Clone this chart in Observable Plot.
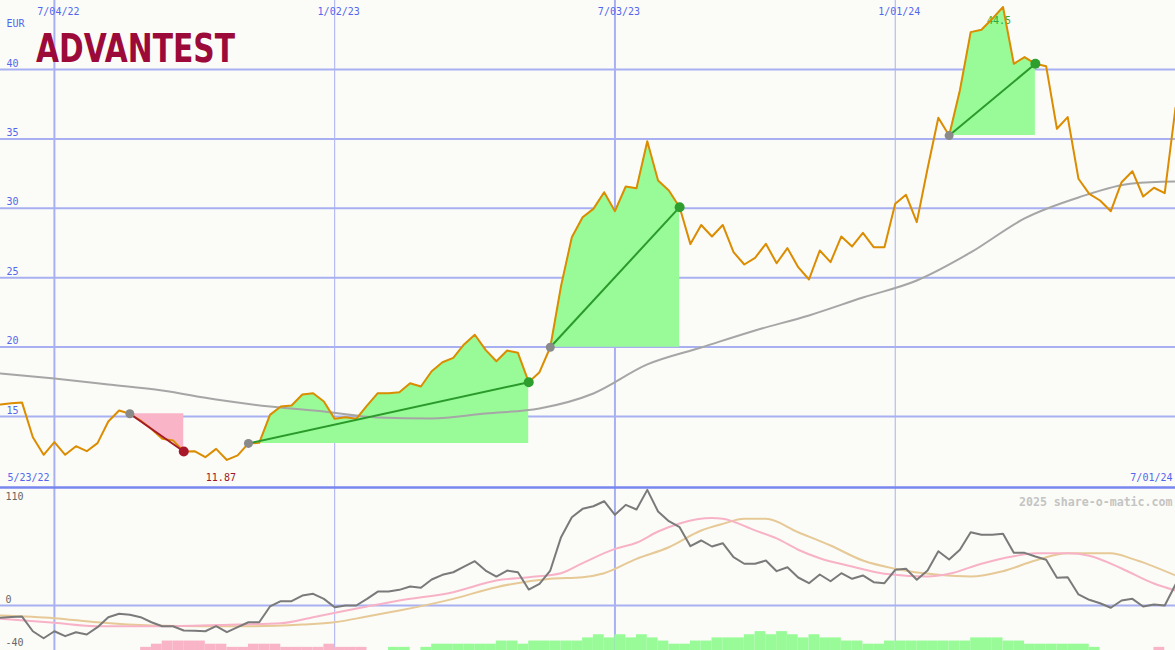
<!DOCTYPE html>
<html><head><meta charset="utf-8">
<script src="https://cdn.jsdelivr.net/npm/d3@7"></script>
<script src="https://cdn.jsdelivr.net/npm/@observablehq/plot@0.6"></script>
<style>
html,body{margin:0;padding:0;background:#fbfcf7;}
#chart{position:relative;width:1175px;height:650px;overflow:hidden;background:#fbfcf7;}
#chart svg{position:absolute;left:0;background:transparent;}
</style></head><body><div id="chart"></div>
<script>
// ---------- data ----------
const startWeek = "2022-05-30";
const endWeek = "2024-07-01";
const price = [15.86,15.95,16.0,13.5,12.24,13.15,12.24,12.86,12.5,13.08,
  14.64,15.43,15.2,14.7,14.1,13.4,13.27,12.48,12.5,12.07,
  12.67,11.87,12.2,13.06,13.1,15.12,15.72,15.79,16.59,16.68,
  16.08,14.83,14.95,14.83,15.79,16.68,16.68,16.75,17.4,17.16,
  18.26,18.91,19.22,20.19,20.89,19.8,18.98,19.75,19.59,17.47,
  18.19,19.99,24.4,27.92,29.36,29.96,31.16,29.79,31.57,31.45,
  34.83,32.0,31.28,30.08,27.42,28.8,27.97,28.8,26.84,25.95,
  26.43,27.44,26.04,27.13,25.76,24.87,26.96,26.12,27.97,27.25,
  28.23,27.2,27.2,30.32,30.97,29.0,32.87,36.52,35.24,38.5,
  42.69,42.86,43.65,44.5,40.41,40.89,40.41,40.24,35.73,36.57,
  32.13,31.04,30.56,29.79,31.88,32.67,30.85,31.48,31.09,37.24];
const maWeeks = [0,5,10,15,20,25,30,35,40,45,50,55,60,65,70,75,80,85,90,95,100,105,109];
const maValues = [18.1,17.74,17.31,16.87,16.22,15.72,15.36,14.93,14.86,15.22,15.58,16.66,18.75,19.97,21.2,22.28,23.57,24.8,26.82,29.27,30.78,31.79,31.93];
const oscillator = [-11.5,-10.8,-10.3,-24.0,-30.5,-24.0,-28.6,-24.9,-27.0,-20.2,
  -10.9,-7.7,-8.7,-10.9,-15.6,-19.3,-19.3,-23.3,-23.6,-24.0,
  -19.3,-24.9,-20.2,-15.6,-15.6,-0.9,4.0,4.0,9.3,10.9,
  6.2,-1.6,0,0,6.2,13.0,13.0,14.6,17.7,16.5,
  24.2,28.6,31.0,36.3,41.3,32.6,27.0,32.6,31.0,14.9,
  20.2,32.6,63.7,82.3,90.1,92.5,97.2,84.5,93.8,89.5,
  107.8,87.6,78.6,73.0,55.3,60.6,55.0,58.1,45.0,38.9,
  38.9,41.9,32.0,35.7,26.1,20.8,28.9,22.6,30.1,24.9,
  28.0,21.7,20.8,33.3,34.2,24.0,32.6,50.6,42.9,51.9,
  68.3,65.9,65.9,66.8,49.1,49.1,45.7,42.6,25.8,26.4,
  10.3,5.3,2.1,-2.1,4.7,6.2,-0.9,0.9,0,19.6];
const pinkWeeks = [0,5,9,15,22,26,29,34,37,42,46,49,52,54,57,59,61,63,66,67,70,72,74,76,79,82,86,88,91,94,96,99,101,104,107,109];
const pinkValues = [-12.4,-16.1,-19.3,-19.3,-17.7,-16.5,-10.9,-0.9,4.7,12.4,23.3,26.4,30.1,39.5,52.8,58.5,69,76.5,81.5,80.8,70,62.5,52,44,36.3,29.5,27,29.5,39,46,48.7,48.7,46.4,34.5,20.5,14];
const tanWeeks = [0,5,9,14,19,23,28,31,34,37,42,46,51,54,56,59,62,65,67,69,71,74,77,80,83,87,90,93,96,99,103,105,109];
const tanValues = [-9.3,-11.8,-15.6,-18.6,-19.3,-19.3,-17.7,-15.6,-10.3,-4.7,6.2,17.1,24.9,26.4,30.1,43.5,54.3,69.9,76.1,80.8,80.8,68.3,55.9,41.9,34.2,28.6,27.0,32.0,41.9,48.7,48.7,43.5,28.0];
const histogram = [0,0,0,0,0,0,0,0,0,0, 0,0,0,-1,-2,-3,-3,-3,-3,-2,
  -2,-1,-1,-2,-2,-2,-1,-1,-1,-1, -2,-1,-1,-1,0,0,1,1,0,1,
  2,2,2,2,2,2,3,3,2,3, 3,3,3,3,4,5,4,5,4,5,
  4,3,2,2,3,3,4,4,4,5, 6,5,6,5,4,5,4,4,3,3,
  2,2,3,3,3,3,3,3,3,3, 4,4,4,3,3,2,2,2,2,2,
  2,1,0,0,0,0,0,-1,0,0];
const gridDates = ["2022-07-04","2023-01-02","2023-07-03","2024-01-01"];
const gridLabels = ["7/04/22","1/02/23","7/03/23","1/01/24"];
const priceTicks = [15,20,25,30,35,40];
const oscTopTick = [110];
const oscLowTicks = [0,-40];
const trendStarts = [12,23,51,88];
const trendEnds = [17,49,63,96];
const lowLabel = "11.87", lowWeek = 21;
const highLabel = "44.5", highWeek = 93;
const rangeLabels = ["5/23/22","7/01/24"];
const unitLabel = "EUR";
const credit = "2025 share-o-matic.com";
const company = "ADVANTEST";

// ---------- build ----------
const W = 1175;
const FONT = "DejaVu Sans Mono";
const weeks = d3.utcMonday.range(new Date(startWeek), d3.utcDay.offset(new Date(endWeek), 1));
const xDomain = [weeks[0], weeks[weeks.length - 1]];
const priceData = price.map((v, i) => ({date: weeks[i], v}));
const maData = maWeeks.map((k, i) => ({date: weeks[k], v: maValues[i]}));
const oscData = oscillator.map((v, i) => ({date: weeks[i], v}));
const pinkData = pinkWeeks.map((k, i) => ({date: weeks[k], v: pinkValues[i]}));
const tanData = tanWeeks.map((k, i) => ({date: weeks[k], v: tanValues[i]}));
const histData = histogram.map((v, i) => ({x1: weeks[i], x2: d3.utcMonday.offset(weeks[i], 1), v}))
  .filter(d => d.v !== 0);
const grid = gridDates.map((d, i) => ({date: new Date(d), label: gridLabels[i], w: i % 2 === 0 ? 2 : 1}));

const trends = trendStarts.map((s, i) => {
  const e = trendEnds[i];
  const up = price[e] > price[s];
  const base = price[s];
  const area = [];
  for (let k = s; k <= e; ++k) {
    area.push(up ? {date: weeks[k], lo: base, hi: Math.max(price[k], base)}
                 : {date: weeks[k], lo: Math.min(price[k], base), hi: base});
  }
  return {up, area, x1: weeks[s], y1: price[s], x2: weeks[e], y2: price[e]};
});

const gridColor = "#a8b0f2";
const labelBlue = "#5466ee";
const upFill = "#98fb98", downFill = "#fab4c8";
const upLine = "#2a9a2a", downLine = "#a31a2a";

const main = Plot.plot({
  width: W, height: 489, marginTop: 0, marginBottom: 2, marginLeft: 0, marginRight: 0,
  x: {type: "utc", domain: xDomain, axis: null},
  y: {domain: [9.885, 44.97], axis: null},
  style: {background: "transparent", fontFamily: FONT, fontSize: "10px", overflow: "visible"},
  marks: [
    Plot.ruleY(priceTicks, {stroke: gridColor, strokeWidth: 2}),
    Plot.ruleX(grid, {x: "date", stroke: gridColor, strokeWidth: "w"}),
    ...trends.map(t => Plot.areaY(t.area, {x: "date", y1: "lo", y2: "hi", fill: t.up ? upFill : downFill})),
    Plot.line(maData, {x: "date", y: "v", stroke: "#a6a6a6", strokeWidth: 2, curve: "monotone-x"}),
    Plot.text([highLabel], {x: weeks[highWeek], y: price[highWeek], dx: -4, dy: 14, fill: "#33aa33", fontSize: 10}),
    Plot.line(priceData, {x: "date", y: "v", stroke: "#dc8c00", strokeWidth: 2}),
    Plot.link(trends, {x1: "x1", y1: "y1", x2: "x2", y2: "y2", stroke: d => d.up ? upLine : downLine, strokeWidth: 2}),
    Plot.dot(trends, {x: "x1", y: "y1", r: 4.5, fill: "#8a8a8a"}),
    Plot.dot(trends, {x: "x2", y: "y2", r: 5, fill: d => d.up ? "#2e9e2e" : "#a8182a"}),
    Plot.text(priceTicks, {y: d => d, text: d => String(d), frameAnchor: "left", dx: 6, dy: -6, textAnchor: "start", fill: labelBlue}),
    Plot.text([unitLabel], {frameAnchor: "top-left", dx: 6, dy: 19, textAnchor: "start", fill: labelBlue}),
    Plot.text(grid, {x: "date", text: "label", frameAnchor: "top", dy: 7, dx: 4, fill: labelBlue}),
    Plot.text([rangeLabels[0]], {frameAnchor: "bottom-left", dx: 7, dy: -7, textAnchor: "start", fill: labelBlue}),
    Plot.text([rangeLabels[1]], {frameAnchor: "bottom-right", dx: -3, dy: -7, textAnchor: "end", fill: labelBlue}),
    Plot.text([lowLabel], {x: weeks[lowWeek], frameAnchor: "bottom", dx: -6, dy: -7, fill: "#a01828"}),
    Plot.ruleY([9.885], {stroke: "#7886f0", strokeWidth: 2.5})
  ]
});

const bottom = Plot.plot({
  width: W, height: 163, marginTop: 0, marginBottom: 0, marginLeft: 0, marginRight: 0,
  x: {type: "utc", domain: xDomain, axis: null},
  y: {domain: [-41.95, 110], axis: null},
  style: {background: "transparent", fontFamily: FONT, fontSize: "10px", overflow: "visible"},
  marks: [
    Plot.ruleX(grid, {x: "date", stroke: gridColor, strokeWidth: "w"}),
    Plot.ruleY([0], {stroke: gridColor, strokeWidth: 2}),
    Plot.line(tanData, {x: "date", y: "v", stroke: "#e6c996", strokeWidth: 2, curve: "monotone-x"}),
    Plot.line(pinkData, {x: "date", y: "v", stroke: "#f8b2c8", strokeWidth: 2, curve: "monotone-x"}),
    Plot.line(oscData, {x: "date", y: "v", stroke: "#7a7a7a", strokeWidth: 2}),
    Plot.text(oscTopTick, {y: d => d, text: d => String(d), frameAnchor: "left", dx: 5, dy: 9, textAnchor: "start", fill: "#666"}),
    Plot.text(oscLowTicks, {y: d => d, text: d => String(d), frameAnchor: "left", dx: 5, dy: -6, textAnchor: "start", fill: "#666"}),
    Plot.text([credit], {frameAnchor: "top-right", dx: -3, dy: 10, textAnchor: "end", fill: "#c4c4c4", fontWeight: "bold", fontSize: 11.6})
  ]
});

const hist = Plot.plot({
  width: W, height: 25, marginTop: 0, marginBottom: 0, marginLeft: 0, marginRight: 0,
  x: {type: "utc", domain: xDomain, axis: null},
  y: {domain: [0, 25 / 3.15], axis: null},
  style: {background: "transparent"},
  marks: [
    Plot.rect(histData, {x1: "x1", x2: "x2", y1: 0, y2: d => Math.abs(d.v), fill: d => d.v > 0 ? upFill : downFill})
  ]
});

const root = document.getElementById("chart");
bottom.style.top = "487px";
hist.style.top = "625px";
main.style.top = "0px";
root.append(bottom, hist, main);

// logo
const ns = "http://www.w3.org/2000/svg";
const logo = document.createElementNS(ns, "svg");
logo.setAttribute("width", 320); logo.setAttribute("height", 90);
logo.style.top = "0px";
const t = document.createElementNS(ns, "text");
t.setAttribute("x", 36); t.setAttribute("y", 62);
t.setAttribute("textLength", 199); t.setAttribute("lengthAdjust", "spacingAndGlyphs");
t.setAttribute("font-family", "DejaVu Sans, sans-serif");
t.setAttribute("font-weight", "bold"); t.setAttribute("font-size", 38.5);
t.setAttribute("fill", "#9c0a3a");
t.textContent = company;
logo.appendChild(t);
root.appendChild(logo);
</script></body></html>
